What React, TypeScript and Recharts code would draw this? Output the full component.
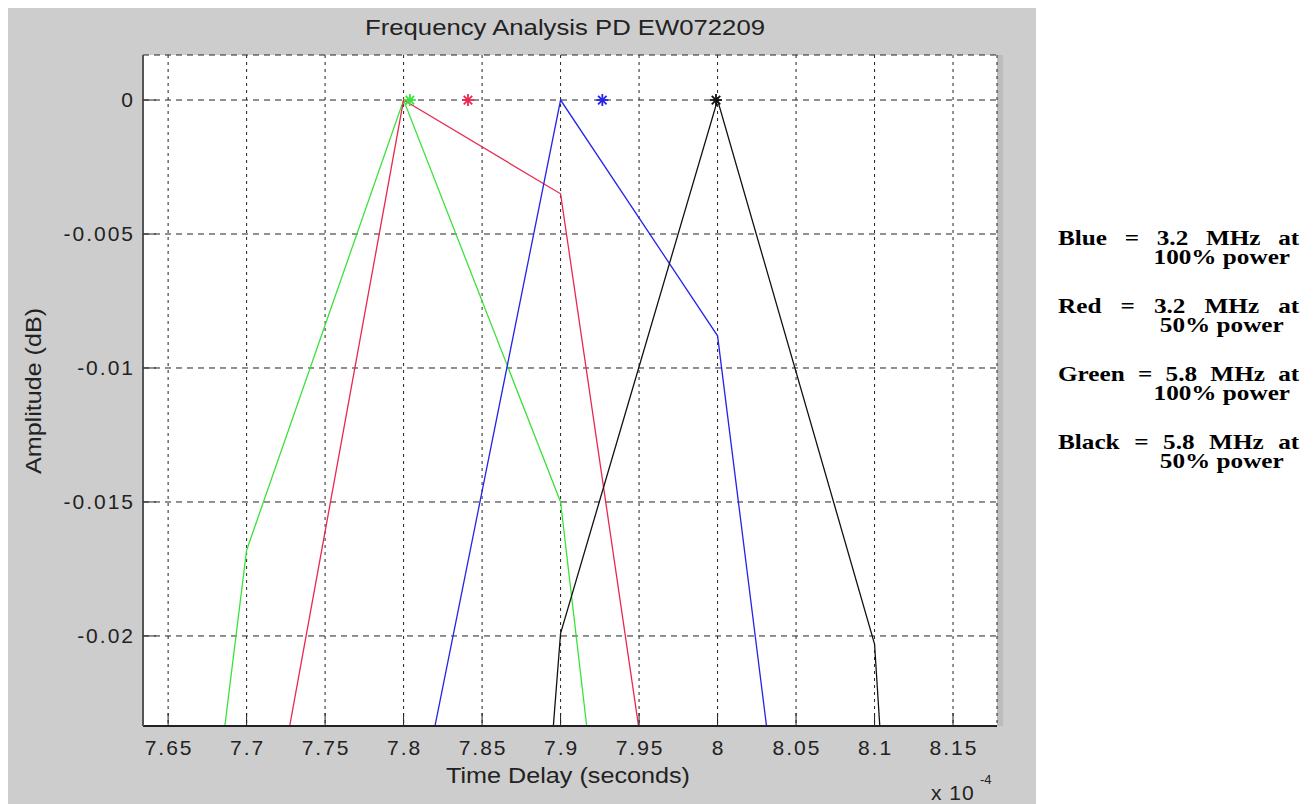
import { ComposedChart, Line, Scatter, XAxis, YAxis, CartesianGrid } from "recharts";

// time delay in units of 1e-4 s, amplitude in dB
const X_TICKS = [7.65, 7.7, 7.75, 7.8, 7.85, 7.9, 7.95, 8, 8.05, 8.1, 8.15];
const Y_TICKS = [0, -0.005, -0.01, -0.015, -0.02];
const X_DOMAIN = [7.634, 8.178];
const Y_DOMAIN = [-0.02336, 0.00168];

const blueLine = [
  { t: 7.8, a: -0.0292 },
  { t: 7.9, a: 0 },
  { t: 8.0, a: -0.0088 },
  { t: 8.1, a: -0.0555 },
];
const redLine = [
  { t: 7.7, a: -0.0322 },
  { t: 7.8, a: 0 },
  { t: 7.9, a: -0.0035 },
  { t: 8.0, a: -0.0435 },
];
const greenLine = [
  { t: 7.6, a: -0.0641 },
  { t: 7.7, a: -0.0168 },
  { t: 7.8, a: 0 },
  { t: 7.9, a: -0.015 },
  { t: 8.0, a: -0.0653 },
];
const blackLine = [
  { t: 7.8, a: -0.095 },
  { t: 7.9, a: -0.0199 },
  { t: 8.0, a: 0 },
  { t: 8.1, a: -0.0203 },
  { t: 8.2, a: -0.112 },
];

// peak markers
const bluePeak = [{ t: 7.9266, a: 0 }];
const redPeak = [{ t: 7.841, a: 0 }];
const greenPeak = [{ t: 7.804, a: 0 }];
const blackPeak = [{ t: 7.999, a: 0 }];

const NOTES = [
  { head: "Blue = 3.2 MHz at", tail: "100% power" },
  { head: "Red = 3.2 MHz at", tail: "50% power" },
  { head: "Green = 5.8 MHz at", tail: "100% power" },
  { head: "Black = 5.8 MHz at", tail: "50% power" },
];

const SERIES = [
  { key: "green", color: "#3ce23c", line: greenLine, peak: greenPeak },
  { key: "red", color: "#e8284f", line: redLine, peak: redPeak },
  { key: "blue", color: "#2424e8", line: blueLine, peak: bluePeak },
  { key: "black", color: "#111111", line: blackLine, peak: blackPeak },
];

const FONT = "'Liberation Sans', Arial, sans-serif";
const TEXT = "#222";

const fmt = (v: number) => String(Number(v.toFixed(3)));

const XTick = (props: any) => {
  const { x, y, payload } = props;
  return (
    <g>
      <line x1={x} x2={x} y1={y - 10} y2={y - 23} stroke="#222" strokeWidth={1} />
      <text x={x} y={y} dx={1} dy={19} textAnchor="middle" fontFamily={FONT} fontSize={21} letterSpacing={2} fill={TEXT}>
        {fmt(payload.value)}
      </text>
    </g>
  );
};

const YTick = (props: any) => {
  const { x, y, payload } = props;
  return (
    <g>
      <line x1={x + 10} x2={x + 23} y1={y} y2={y} stroke="#222" strokeWidth={1} />
      <text x={x} y={y} dx={2} dy={7} textAnchor="end" fontFamily={FONT} fontSize={21} letterSpacing={2} fill={TEXT}>
        {fmt(payload.value)}
      </text>
    </g>
  );
};

const asterisk = (color: string) => (props: any) => {
  const { cx, cy } = props;
  const r = 6;
  const d = r * 0.7071;
  return (
    <g stroke={color} strokeWidth={1.8}>
      <line x1={cx - r} y1={cy} x2={cx + r} y2={cy} />
      <line x1={cx} y1={cy - r} x2={cx} y2={cy + r} />
      <line x1={cx - d} y1={cy - d} x2={cx + d} y2={cy + d} />
      <line x1={cx - d} y1={cy + d} x2={cx + d} y2={cy - d} />
    </g>
  );
};

export default function App() {
  return (
    <div style={{ position: "fixed", left: 0, top: 0, width: 1314, height: 804, background: "#fff", overflow: "hidden" }}>
      {/* figure window */}
      <div style={{ position: "absolute", left: 8, top: 8, width: 1028, height: 796, background: "#cdcdcd" }} />
      <div style={{ position: "absolute", left: 997, top: 55, width: 6, height: 671, background: "#bcbcbc" }} />

      <div style={{ position: "absolute", left: 8, top: 8 }}>
        <ComposedChart width={1028} height={796} margin={{ top: 47, right: 39, bottom: 38, left: 10 }}>
          <CartesianGrid vertical={false} stroke="#222" strokeDasharray="6 5" fill="#fff" />
          <CartesianGrid horizontal={false} stroke="#222" strokeDasharray="3 4" />
          <XAxis
            dataKey="t"
            type="number"
            domain={X_DOMAIN}
            ticks={X_TICKS}
            interval={0}
            allowDataOverflow
            height={40}
            tickSize={0}
            tickMargin={10}
            tickLine={false}
            axisLine={{ stroke: "#222", strokeWidth: 2 }}
            tick={<XTick />}
          />
          <YAxis
            dataKey="a"
            type="number"
            domain={Y_DOMAIN}
            ticks={Y_TICKS}
            interval={0}
            allowDataOverflow
            width={125}
            tickSize={0}
            tickMargin={10}
            tickLine={false}
            axisLine={{ stroke: "#555", strokeWidth: 2 }}
            tick={<YTick />}
          />
          {SERIES.map((s) => (
            <Line
              key={s.key}
              data={s.line}
              dataKey="a"
              type="linear"
              stroke={s.color}
              strokeWidth={1.3}
              dot={false}
              activeDot={false}
              isAnimationActive={false}
            />
          ))}
          {SERIES.map((s) => (
            <Scatter key={s.key + "-peak"} data={s.peak} dataKey="a" shape={asterisk(s.color)} isAnimationActive={false} />
          ))}
        </ComposedChart>
      </div>

      {/* titles and axis labels */}
      <svg width={1314} height={804} style={{ position: "absolute", left: 0, top: 0, pointerEvents: "none" }}>
        <text
          x={365}
          y={35}
          textLength={400}
          lengthAdjust="spacingAndGlyphs"
          fontFamily={FONT}
          fontSize={22}
          fill={TEXT}
        >
          Frequency Analysis PD EW072209
        </text>
        <text
          x={446}
          y={783}
          textLength={244}
          lengthAdjust="spacingAndGlyphs"
          fontFamily={FONT}
          fontSize={22}
          fill={TEXT}
        >
          Time Delay (seconds)
        </text>
        <text
          x={33}
          y={474}
          transform="rotate(-90 33 474)"
          dy={8}
          textLength={166}
          lengthAdjust="spacingAndGlyphs"
          fontFamily={FONT}
          fontSize={22}
          fill={TEXT}
        >
          Amplitude (dB)
        </text>
        <text x={931} y={800} fontFamily={FONT} fontSize={21} letterSpacing={1} fill={TEXT}>
          x 10
        </text>
        <text x={980} y={784} fontFamily={FONT} fontSize={13} fill={TEXT}>
          -4
        </text>
      </svg>

      {/* series notes, type set slightly wide */}
      <div
        style={{
          position: "absolute",
          left: 1058,
          top: 229,
          width: 201,
          transform: "scaleX(1.2)",
          transformOrigin: "0 0",
          fontFamily: "'Liberation Serif', 'Times New Roman', serif",
          fontWeight: "bold",
          fontSize: 21,
          lineHeight: "19px",
          color: "#000",
        }}
      >
        {NOTES.map((n) => (
          <div key={n.head} style={{ marginBottom: 30 }}>
            <div style={{ textAlign: "justify", textAlignLast: "justify", whiteSpace: "nowrap" }}>{n.head}</div>
            <div style={{ paddingLeft: 72, textAlign: "center", whiteSpace: "nowrap" }}>{n.tail}</div>
          </div>
        ))}
      </div>
    </div>
  );
}
